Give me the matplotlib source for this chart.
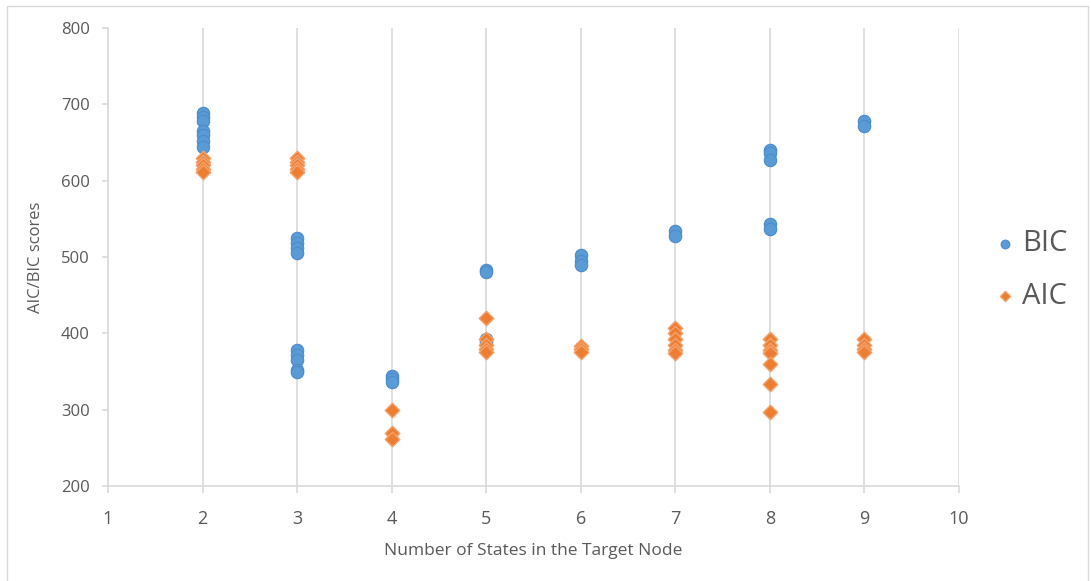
import matplotlib
matplotlib.use("Agg")
import matplotlib.pyplot as plt
from matplotlib.patches import Rectangle

plt.rcParams['font.family'] = ['Open Sans', 'DejaVu Sans']

# BIC scores per number of states
bic_x = [2]*7 + [3]*9 + [4]*3 + [5]*4 + [6]*3 + [7]*2 + [8]*5 + [9]*2
bic_y = [688, 683, 678, 665, 660, 652, 644,
         525, 518, 512, 505, 378, 372, 365, 352, 349,
         344, 340, 336,
         483, 480, 393, 388,
         502, 495, 489,
         534, 527,
         640, 636, 627, 543, 537,
         678, 671]

# AIC scores per number of states
aic_x = [2]*5 + [3]*5 + [4]*3 + [5]*5 + [6]*3 + [7]*6 + [8]*7 + [9]*4
aic_y = [630, 625, 620, 615, 612,
         630, 625, 620, 615, 612,
         300, 270, 262,
         420, 392, 385, 380, 375,
         383, 379, 375,
         407, 400, 393, 385, 378, 374,
         392, 385, 378, 374, 360, 334, 297,
         392, 385, 380, 375]

x_ticks = list(range(1, 11))
y_ticks = list(range(200, 801, 100))

text_col = '#595959'
grid_col = '#d9d9d9'

W, H = 1091, 581
fig = plt.figure(figsize=(W/100, H/100), dpi=100)
ax = fig.add_axes([108/W, 1 - 486/H, (959-108)/W, (486-28)/H])

ax.scatter(bic_x, bic_y, s=80, marker='o', color='#5b9bd5', edgecolors='#4a8ccc',
           linewidths=0.8, label='BIC', zorder=3)
ax.scatter(aic_x, aic_y, s=55, marker='D', color='#ed7d31', edgecolors='#f4a36e',
           linewidths=1.0, label='AIC', zorder=3)

ax.set_xlim(1, 10)
ax.set_ylim(200, 800)
ax.set_xticks(x_ticks)
ax.set_yticks(y_ticks)
ax.grid(axis='x', color=grid_col, linewidth=1.2)
ax.set_axisbelow(True)
for s in ['top', 'right']:
    ax.spines[s].set_visible(False)
for s in ['bottom', 'left']:
    ax.spines[s].set_color(grid_col)
    ax.spines[s].set_linewidth(1.2)
ax.tick_params(axis='x', colors=grid_col, labelcolor=text_col, labelsize=13,
               length=5, width=1.2, pad=12)
ax.tick_params(axis='y', colors=grid_col, labelcolor=text_col, labelsize=12,
               length=4, width=1.2, pad=9)

ax.set_xlabel('Number of States in the Target Node', color=text_col, fontsize=12.5, labelpad=11)
ax.set_ylabel('AIC/BIC scores', color=text_col, fontsize=12)
ax.yaxis.set_label_coords(-64/(959-108), 0.5)

leg = fig.legend(loc='center left', bbox_to_anchor=(993/W, 1 - 270/H), frameon=False,
                 fontsize=21, labelspacing=0.8, handlelength=0.8, handletextpad=0.2,
                 borderpad=0, borderaxespad=0, markerscale=0.7)
for t in leg.get_texts():
    t.set_color(text_col)

fig.patches.append(Rectangle((7/W, -0.01), (1088-7)/W, 1.01 - 6/H, transform=fig.transFigure,
                             fill=False, edgecolor=grid_col, linewidth=1))

fig.savefig('out.png', dpi=100)
